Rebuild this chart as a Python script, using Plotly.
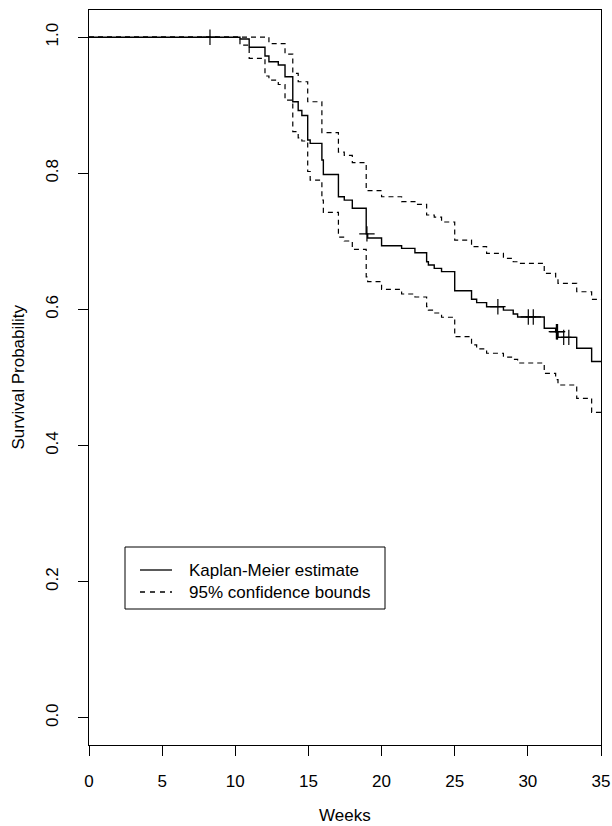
import plotly.graph_objects as go
import bisect

# ---- data ----
event_weeks = [10.32, 10.95, 12.03, 12.3, 12.94, 13.4, 13.93, 14.3, 14.55, 14.95,
               15.12, 15.92, 16.02, 17.05, 17.45, 18.0, 18.95, 19.05, 20.0, 21.37,
               22.28, 23.08, 23.2, 23.6, 24.1, 25.0, 26.15, 26.5, 27.18, 28.33,
               29.0, 29.3, 31.12, 31.9, 32.06, 33.34, 34.36]
km_surv = [0.9974, 0.9852, 0.9724, 0.964, 0.9592, 0.942, 0.9052, 0.8923, 0.885, 0.849,
           0.844, 0.8196, 0.7983, 0.7656, 0.7607, 0.7486, 0.711, 0.705, 0.6937, 0.6898,
           0.6834, 0.6701, 0.6653, 0.6604, 0.6555, 0.6275, 0.615, 0.61, 0.604, 0.599,
           0.5933, 0.589, 0.5723, 0.5673, 0.559, 0.5429, 0.5235]
upper_ci = [1.0, 1.0, 1.0, 0.9907, 0.9907, 0.9753, 0.947, 0.9346, 0.9346, 0.9052,
            0.9052, 0.8597, 0.8597, 0.8313, 0.8265, 0.8156, 0.7745, 0.7745, 0.7656, 0.7583,
            0.7545, 0.7388, 0.7388, 0.7358, 0.7285, 0.702, 0.6922, 0.6922, 0.6825, 0.6751,
            0.6701, 0.6678, 0.6531, 0.645, 0.6384, 0.626, 0.6149]
lower_ci = [0.9885, 0.969, 0.943, 0.937, 0.9305, 0.9075, 0.8612, 0.852, 0.8475, 0.8027,
            0.79, 0.7608, 0.7427, 0.7064, 0.7006, 0.6884, 0.648, 0.6408, 0.6296, 0.6227,
            0.6183, 0.604, 0.599, 0.5948, 0.5885, 0.56, 0.5478, 0.542, 0.5356, 0.53,
            0.5267, 0.5213, 0.5062, 0.497, 0.489, 0.4694, 0.4489]
censor_weeks = [8.27, 19.0, 27.95, 30.03, 30.37, 31.95, 32.0, 32.03, 32.45, 32.8]
x_end = 35
x_ticks = [0, 5, 10, 15, 20, 25, 30, 35]
y_ticks = [0.0, 0.2, 0.4, 0.6, 0.8, 1.0]
legend_labels = ["Kaplan-Meier estimate", "95% confidence bounds"]


def step_series(vals, start=1.0):
    xs = [0] + event_weeks + [x_end]
    ys = [start] + vals + [vals[-1]]
    return xs, ys


def km_at(t):
    i = bisect.bisect_right(event_weeks, t)
    return 1.0 if i == 0 else km_surv[i - 1]


FONT = "Liberation Sans, Arial, sans-serif"
FS = 17
fig = go.Figure()
for vals, dash, w in [(upper_ci, "5px,4px", 1.2), (lower_ci, "5px,4px", 1.2), (km_surv, "solid", 1.4)]:
    xs, ys = step_series(vals)
    fig.add_trace(go.Scatter(x=xs, y=ys, mode="lines", line=dict(shape="hv", color="black", width=w, dash=dash),
                             showlegend=False, hoverinfo="skip"))

fig.add_trace(go.Scatter(x=censor_weeks, y=[km_at(t) for t in censor_weeks], mode="markers",
                         marker=dict(symbol="cross-thin", size=11, line=dict(color="black", width=1.2)),
                         showlegend=False, hoverinfo="skip"))

W, H = 612, 826
L, R, T, B = 89, 11, 10, 81
pw, ph = W - L - R, H - T - B


def px(xp):
    return (xp - L) / pw


def py(yp):
    return (H - B - yp) / ph


axis_common = dict(showline=True, linecolor="black", linewidth=1, mirror=True, showgrid=False, zeroline=False,
                   automargin=False, ticks="outside", ticklen=10, tickwidth=1, tickcolor="black",
                   tickfont=dict(family=FONT, size=FS, color="black"))
fig.update_layout(
    width=W, height=H, margin=dict(l=L, r=R, t=T, b=B, autoexpand=False),
    paper_bgcolor="white", plot_bgcolor="white", showlegend=False,
    xaxis=dict(range=[0, x_end], tickvals=x_ticks, ticktext=[str(v) for v in x_ticks],
               ticklabelstandoff=11, **axis_common),
    yaxis=dict(range=[-0.04, 1.04], tickvals=y_ticks, ticktext=[f"{v:.1f}" for v in y_ticks],
               tickangle=-90, ticklabelstandoff=13, **axis_common),
)

# axis titles
fig.add_annotation(text="Weeks", xref="paper", yref="paper", x=0.5, y=py(815), xanchor="center", yanchor="middle",
                   showarrow=False, borderpad=0, font=dict(family=FONT, size=FS, color="black"))
fig.add_annotation(text="Survival Probability", xref="paper", yref="paper", x=px(18), y=0.5, textangle=-90,
                   xanchor="center", yanchor="middle", showarrow=False, font=dict(family=FONT, size=FS, color="black"))

# legend box
fig.add_shape(type="rect", xref="paper", yref="paper", x0=px(125), x1=px(385), y0=py(609), y1=py(547),
              line=dict(color="black", width=1), fillcolor="white")
for i, (lab, dash) in enumerate(zip(legend_labels, ["solid", "5px,5px"])):
    yy = py(570 + 22 * i)
    fig.add_shape(type="line", xref="paper", yref="paper", x0=px(140), x1=px(172), y0=yy, y1=yy,
                  line=dict(color="black", width=1.3, dash=dash))
    fig.add_annotation(text=lab, xref="paper", yref="paper", x=px(187), y=yy, xanchor="left", yanchor="middle",
                       showarrow=False, font=dict(family=FONT, size=FS, color="black"))

fig.write_html("out.html", config={"displayModeBar": False},
               post_script="document.body.style.margin='0';document.body.style.overflow='hidden';")
